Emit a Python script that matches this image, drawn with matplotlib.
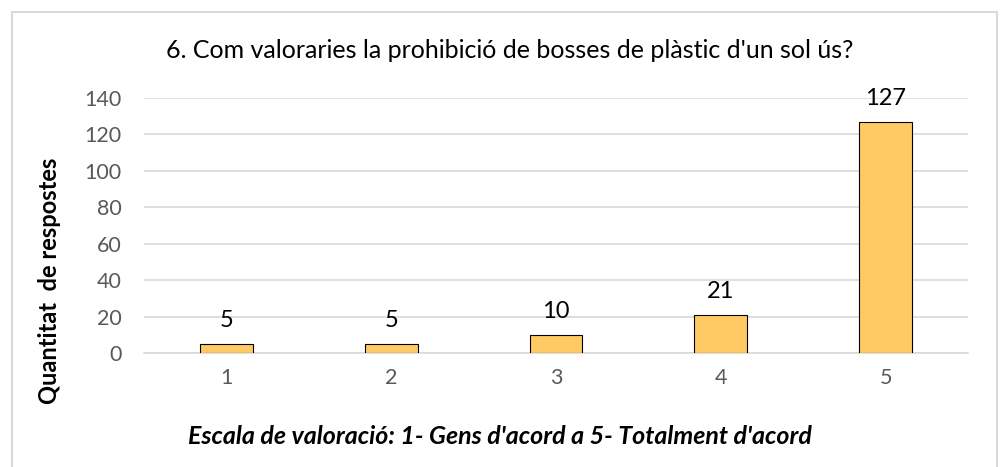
import matplotlib
matplotlib.use("Agg")
import matplotlib.pyplot as plt
from matplotlib.patches import Rectangle

categories = ["1", "2", "3", "4", "5"]
values = [5, 5, 10, 21, 127]
yticks = [0, 20, 40, 60, 80, 100, 120, 140]

title = "6. Com valoraries la prohibició de bosses de plàstic d'un sol ús?"
ylabel = "Quantitat  de respostes"
xlabel = "Escala de valoració: 1- Gens d'acord a 5- Totalment d'acord"

plt.rcParams['font.family'] = ['Lato', 'DejaVu Sans']

W, H = 1002, 467
fig = plt.figure(figsize=(W / 100, H / 100), dpi=100)
fig.patch.set_facecolor("white")

# outer chart border
fig.patches.append(Rectangle((12 / W, -0.05), (997 - 12) / W, 1.05 - 12 / H,
                             transform=fig.transFigure, fill=False,
                             edgecolor="#d9d9d9", linewidth=1.5))

ax = fig.add_axes([144 / W, 1 - 353 / H, (968 - 144) / W, (353 - 98) / H])
x = list(range(len(categories)))
ax.bar(x, values, width=0.32, color="#FFCA64", edgecolor="black",
       linewidth=0.8, zorder=3)
ax.set_xlim(-0.5, len(categories) - 0.5)
ax.set_ylim(0, 140)
ax.set_yticks(yticks)
ax.set_xticks(x)
ax.set_xticklabels(categories)
ax.grid(axis="y", color="#d9d9d9", linewidth=1.2, zorder=0)
for s in ["top", "right", "left"]:
    ax.spines[s].set_visible(False)
ax.spines["bottom"].set_color("#d9d9d9")
ax.spines["bottom"].set_linewidth(1.2)
ax.tick_params(axis="both", length=0, labelsize=15.5, labelcolor="#595959")
ax.tick_params(axis="y", pad=16)
ax.tick_params(axis="x", pad=11)

for xi, v in zip(x, values):
    ax.annotate(str(v), (xi, v), xytext=(0, 9), textcoords="offset points",
                ha="center", va="bottom", fontsize=17, color="black")

fig.text(510 / W, 1 - 50 / H, title, ha="center", va="center", fontsize=18,
         color="black")
fig.text(50 / W, 1 - 281 / H, ylabel, ha="center", va="center", rotation=90,
         fontsize=17, fontweight="bold", color="black")
fig.text(500 / W, 1 - 437 / H, xlabel, ha="center", va="center", fontsize=18,
         fontweight="bold", fontstyle="italic", color="black")

fig.savefig("out.png", dpi=100, facecolor="white")
